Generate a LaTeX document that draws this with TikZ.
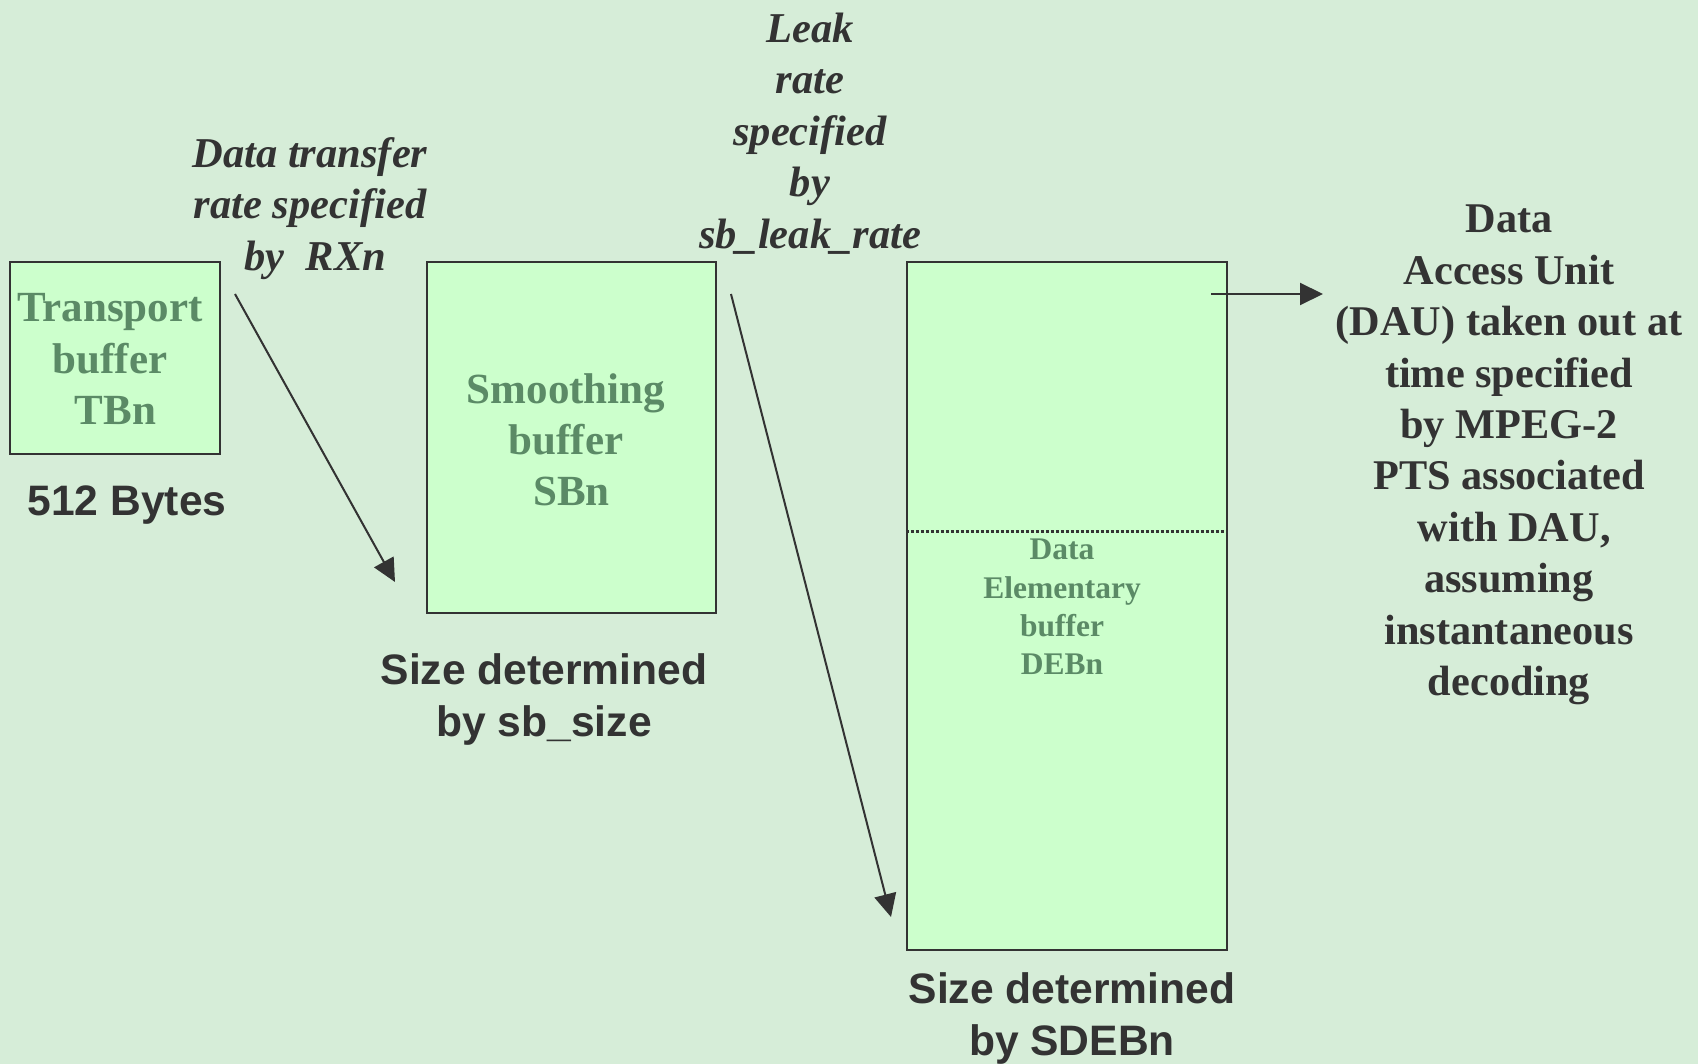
\documentclass[tikz,border=0pt]{standalone}
\usepackage{fontspec}
\setmainfont{Liberation Serif}
\newfontfamily\arialf{Liberation Sans}
\usetikzlibrary{arrows.meta}

\definecolor{bgcol}{RGB}{214,237,216}
\definecolor{boxfill}{RGB}{204,255,204}
\definecolor{boxtext}{RGB}{91,138,102}
\definecolor{ink}{RGB}{51,51,51}

\tikzset{
  buffer/.style={draw=ink, line width=2.5pt, fill=boxfill, inner sep=0pt},
  buffername/.style={text=boxtext, align=center, inner sep=0pt,
    font=\fontsize{43}{51.2}\selectfont\bfseries},
  innerlabel/.style={text=boxtext, align=center, inner sep=0pt,
    font=\fontsize{31.5}{38.2}\selectfont\bfseries},
  ratelabel/.style={text=ink, align=center, inner sep=0pt,
    font=\fontsize{42.5}{51.6}\selectfont\bfseries\itshape},
  sizelabel/.style={text=ink, align=center, inner sep=0pt,
    font=\arialf\fontsize{42.6}{52}\selectfont\bfseries},
  outlabel/.style={text=ink, align=center, inner sep=0pt,
    font=\fontsize{42.3}{51.4}\selectfont\bfseries},
  flow/.style={draw=ink, line width=2pt,
    -{Triangle[length=23pt,width=22pt]}}
}

\begin{document}
\begin{tikzpicture}[x=1pt, y=-1pt]
  \fill[bgcol] (0,0) rectangle (1698,1064);
  \useasboundingbox (0,0) rectangle (1698,1064);

  % the three buffers
  \node[buffer, minimum width=210pt, minimum height=192pt] (tb) at (115,358) {};
  \node[buffer, minimum width=289pt, minimum height=351pt] (sb) at (571.5,437.5) {};
  \node[buffer, minimum width=320pt, minimum height=688pt] (deb) at (1067,606) {};

  \node[buffername] (tbname) at (110,359) {Transport\\buffer\\\ TBn};
  \node[buffername] (sbname) at (566,439.5) {Smoothing\\buffer\\\ SBn};

  % fill level inside the elementary buffer
  \draw[ink, line width=3pt, dash pattern=on 3.5pt off 1.5pt]
    ([yshift=-271pt]deb.north west) coordinate (lvlw)
    -- ([yshift=-271pt]deb.north east) coordinate (lvle);
  \node[innerlabel] (deblbl) at (1062,607) {Data\\Elementary\\buffer\\DEBn};

  % sizes
  \node[sizelabel] (tbsize) at (127,505.5) {512 Bytes};
  \node[sizelabel] (sbsize) at (544,699.5) {Size determined\\by sb\_size};
  \node[sizelabel] (debsize) at (1072,1018.5) {Size determined\\by SDEBn};

  % rates
  \node[ratelabel] (rx) at (310,208.5) {Data transfer\\rate specified\\\ by~~RXn};
  \node[ratelabel] (leak) at (810,133.5) {Leak\\rate\\specified\\by\\sb\_leak\_rate};

  % output of access units
  \node[outlabel] (dau) at (1509,455)
    {Data\\Access Unit\\(DAU) taken out at\\time specified\\by MPEG-2\\PTS associated\\\ with DAU,\\assuming\\instantaneous\\decoding};

  % flow arrows
  \coordinate (rxs) at (235,294);
  \coordinate (rxe) at (395,582);
  \coordinate (lks) at (731,294);
  \coordinate (lke) at (891,917);
  \coordinate (outs) at (1211,294);
  \coordinate (oute) at (1323,294);
  \draw[flow] (rxs) -- (rxe);
  \draw[flow] (lks) -- (lke);
  \draw[flow] (outs) -- (oute);
\end{tikzpicture}
\end{document}
